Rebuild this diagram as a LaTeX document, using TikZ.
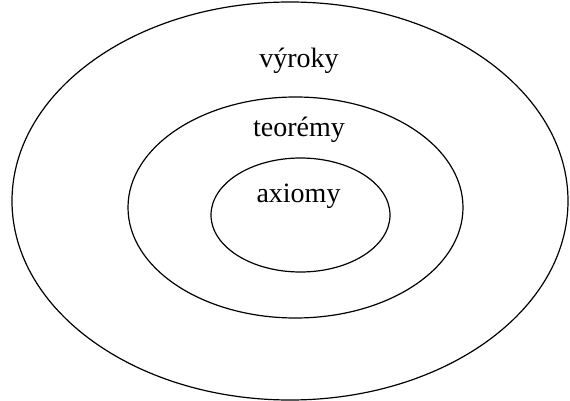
\documentclass[tikz,border=0pt]{standalone}
\usepackage{fontspec}
\setmainfont{Liberation Serif}
\begin{document}
\begin{tikzpicture}[x=1pt,y=-1pt,
  ring/.style={draw=black, line width=1.2pt},
  lbl/.style={anchor=base, inner sep=0pt, font=\fontsize{28}{33}\selectfont}]
\useasboundingbox (0,0) rectangle (570,401);
\draw[ring] (290,201) ellipse [x radius=278, y radius=199];
\draw[ring] (295.5,207.5) ellipse [x radius=167.5, y radius=110.5];
\draw[ring] (300.5,215) ellipse [x radius=89.5, y radius=57];
\node[lbl] (v) at (299,68) {výroky};
\node[lbl] (t) at (299,137) {teorémy};
\node[lbl] (a) at (298.5,202) {axiomy};
\end{tikzpicture}
\end{document}
